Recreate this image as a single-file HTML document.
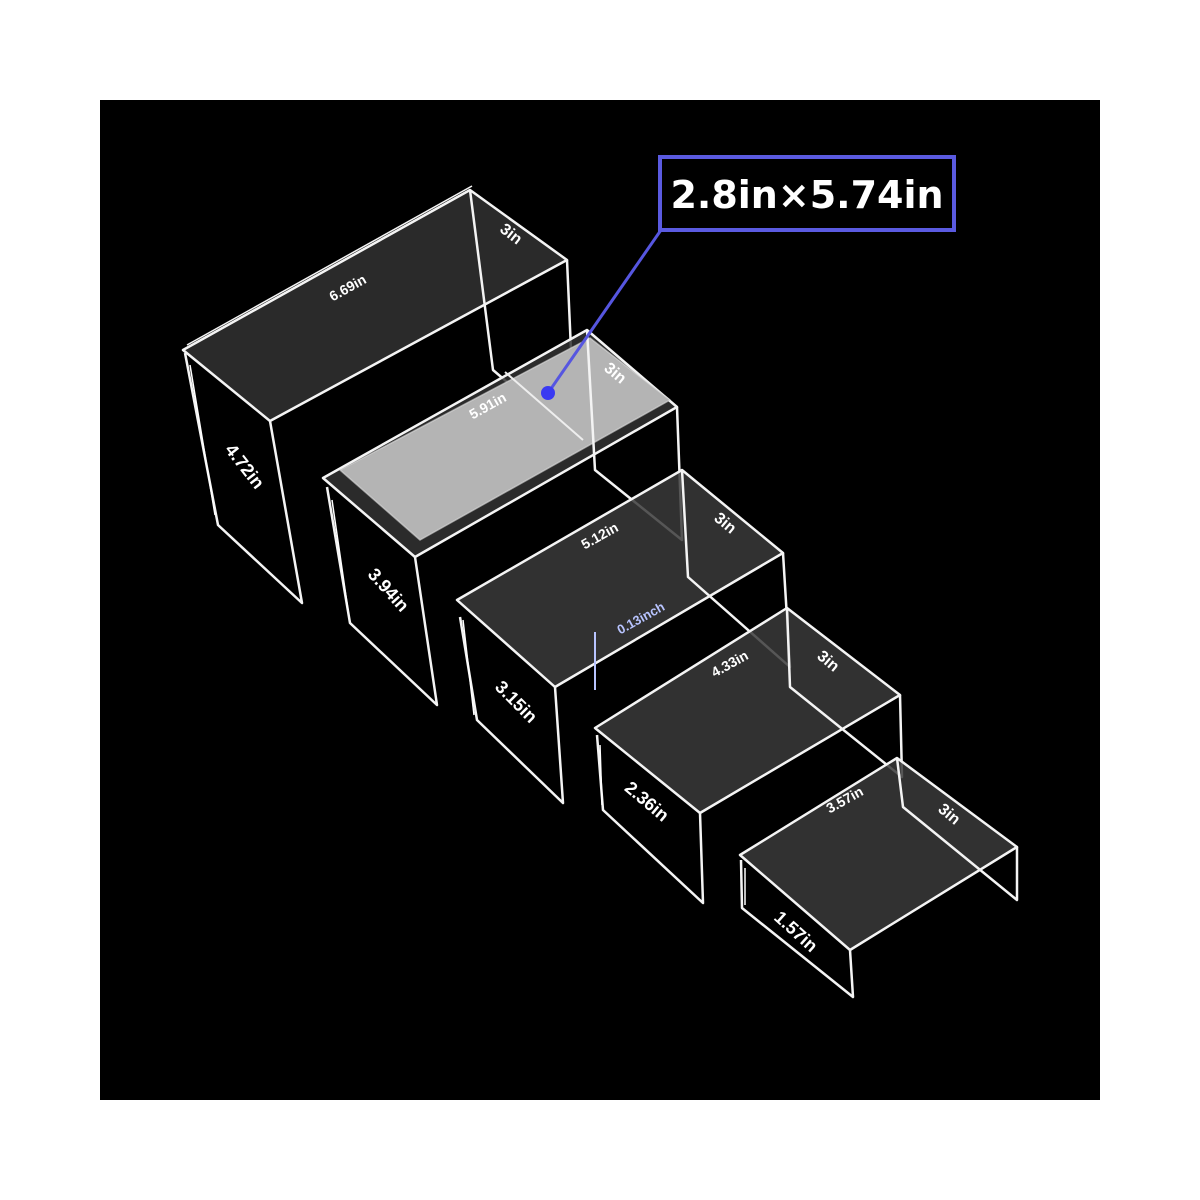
<!DOCTYPE html>
<html><head><style>
html,body{margin:0;padding:0;background:#fff;}
svg{display:block;}
text{font-family:"Liberation Sans",sans-serif;font-weight:bold;fill:#fff;}
</style></head><body>
<svg width="1200" height="1200" viewBox="0 0 1200 1200" xmlns="http://www.w3.org/2000/svg">
<rect x="0" y="0" width="1200" height="1200" fill="#fff"/>
<rect x="100" y="100" width="1000" height="1000" fill="#000"/>
<g stroke="#f4f4f4" stroke-width="2.5" stroke-linejoin="round" fill="none">
<!-- R1 -->
<polygon points="183,350 270,421 567,260 470,190" fill="#2c2c2c" fill-opacity="0.95"/>
<polyline points="185,353 218,525 302,603 270,421"/>
<polyline points="470,190 493,370 575,440 567,260"/>
<line x1="187" y1="345" x2="472" y2="186" stroke-width="1.5"/>
<!-- R2 -->
<polygon points="323,478 415,557 677,407 587,330" fill="#333" fill-opacity="0.85"/>
<polygon points="340,470 420,540 670,400 590,338" fill="#b4b4b4" stroke="#ddd" stroke-width="1.5" stroke-opacity="0.6"/>
<polyline points="327,487 350,623 437,705 415,557"/>
<polyline points="587,330 595,470 682,540 677,407"/>
<line x1="505" y1="372" x2="583" y2="440" stroke-width="2" stroke="#eee"/>
<!-- R3 -->
<polygon points="457,600 555,687 783,553 682,470" fill="#3a3a3a" fill-opacity="0.85"/>
<polyline points="460,617 477,720 563,803 555,687"/>
<polyline points="682,470 688,577 790,667 783,553"/>
<!-- R4 -->
<polygon points="595,728 700,813 900,695 787,608" fill="#3a3a3a" fill-opacity="0.85"/>
<polyline points="597,735 603,810 703,903 700,813"/>
<polyline points="787,608 790,687 902,777 900,695"/>
<!-- R5 -->
<polygon points="740,855 850,950 1017,847 897,758" fill="#3a3a3a" fill-opacity="0.85"/>
<polyline points="741,860 742,908 853,997 850,950"/>
<polyline points="897,758 903,807 1017,900 1017,847"/>
</g>
<!-- height arrows -->
<g stroke="#fff" stroke-width="1.5">
<line x1="190" y1="365" x2="215" y2="515"/>
<line x1="332" y1="500" x2="348" y2="610"/>
<line x1="463" y1="620" x2="474" y2="715"/>
<line x1="600" y1="745" x2="602" y2="805"/>
<line x1="745" y1="868" x2="745" y2="905"/>
</g>
<g font-size="16">
<text transform="translate(350,292) rotate(-29)" text-anchor="middle" font-size="14">6.69in</text>
<text transform="translate(508,238) rotate(38)" text-anchor="middle">3in</text>
<text transform="translate(240,470) rotate(52)" text-anchor="middle" font-size="18">4.72in</text>
<text transform="translate(490,410) rotate(-29)" text-anchor="middle" font-size="14">5.91in</text>
<text transform="translate(612,377) rotate(40)" text-anchor="middle">3in</text>
<text transform="translate(384,594) rotate(48)" text-anchor="middle" font-size="18">3.94in</text>
<text transform="translate(602,540) rotate(-29)" text-anchor="middle" font-size="14">5.12in</text>
<text transform="translate(722,527) rotate(40)" text-anchor="middle">3in</text>
<text transform="translate(512,706) rotate(45)" text-anchor="middle" font-size="18">3.15in</text>
<text transform="translate(732,668) rotate(-29)" text-anchor="middle" font-size="14">4.33in</text>
<text transform="translate(825,665) rotate(40)" text-anchor="middle">3in</text>
<text transform="translate(643,806) rotate(40)" text-anchor="middle" font-size="18">2.36in</text>
<text transform="translate(847,804) rotate(-29)" text-anchor="middle" font-size="14">3.57in</text>
<text transform="translate(946,818) rotate(40)" text-anchor="middle">3in</text>
<text transform="translate(792,936) rotate(42)" text-anchor="middle" font-size="18">1.57in</text>
<text transform="translate(643,622) rotate(-29)" text-anchor="middle" font-size="13" style="fill:#b8c4ff">0.13inch</text>
</g>
<line x1="595" y1="632" x2="595" y2="690" stroke="#b8c4ff" stroke-width="2"/>
<!-- callout -->
<line x1="661" y1="230" x2="548" y2="393" stroke="#5656e0" stroke-width="3"/>
<circle cx="548" cy="393" r="7" fill="#3a3af2"/>
<rect x="660" y="157" width="294" height="73" fill="#000" stroke="#5a5ae0" stroke-width="4"/>
<text x="807" y="208" text-anchor="middle" font-size="38" style="font-family:'DejaVu Sans','Liberation Sans',sans-serif">2.8in×5.74in</text>
</svg>
</body></html>
